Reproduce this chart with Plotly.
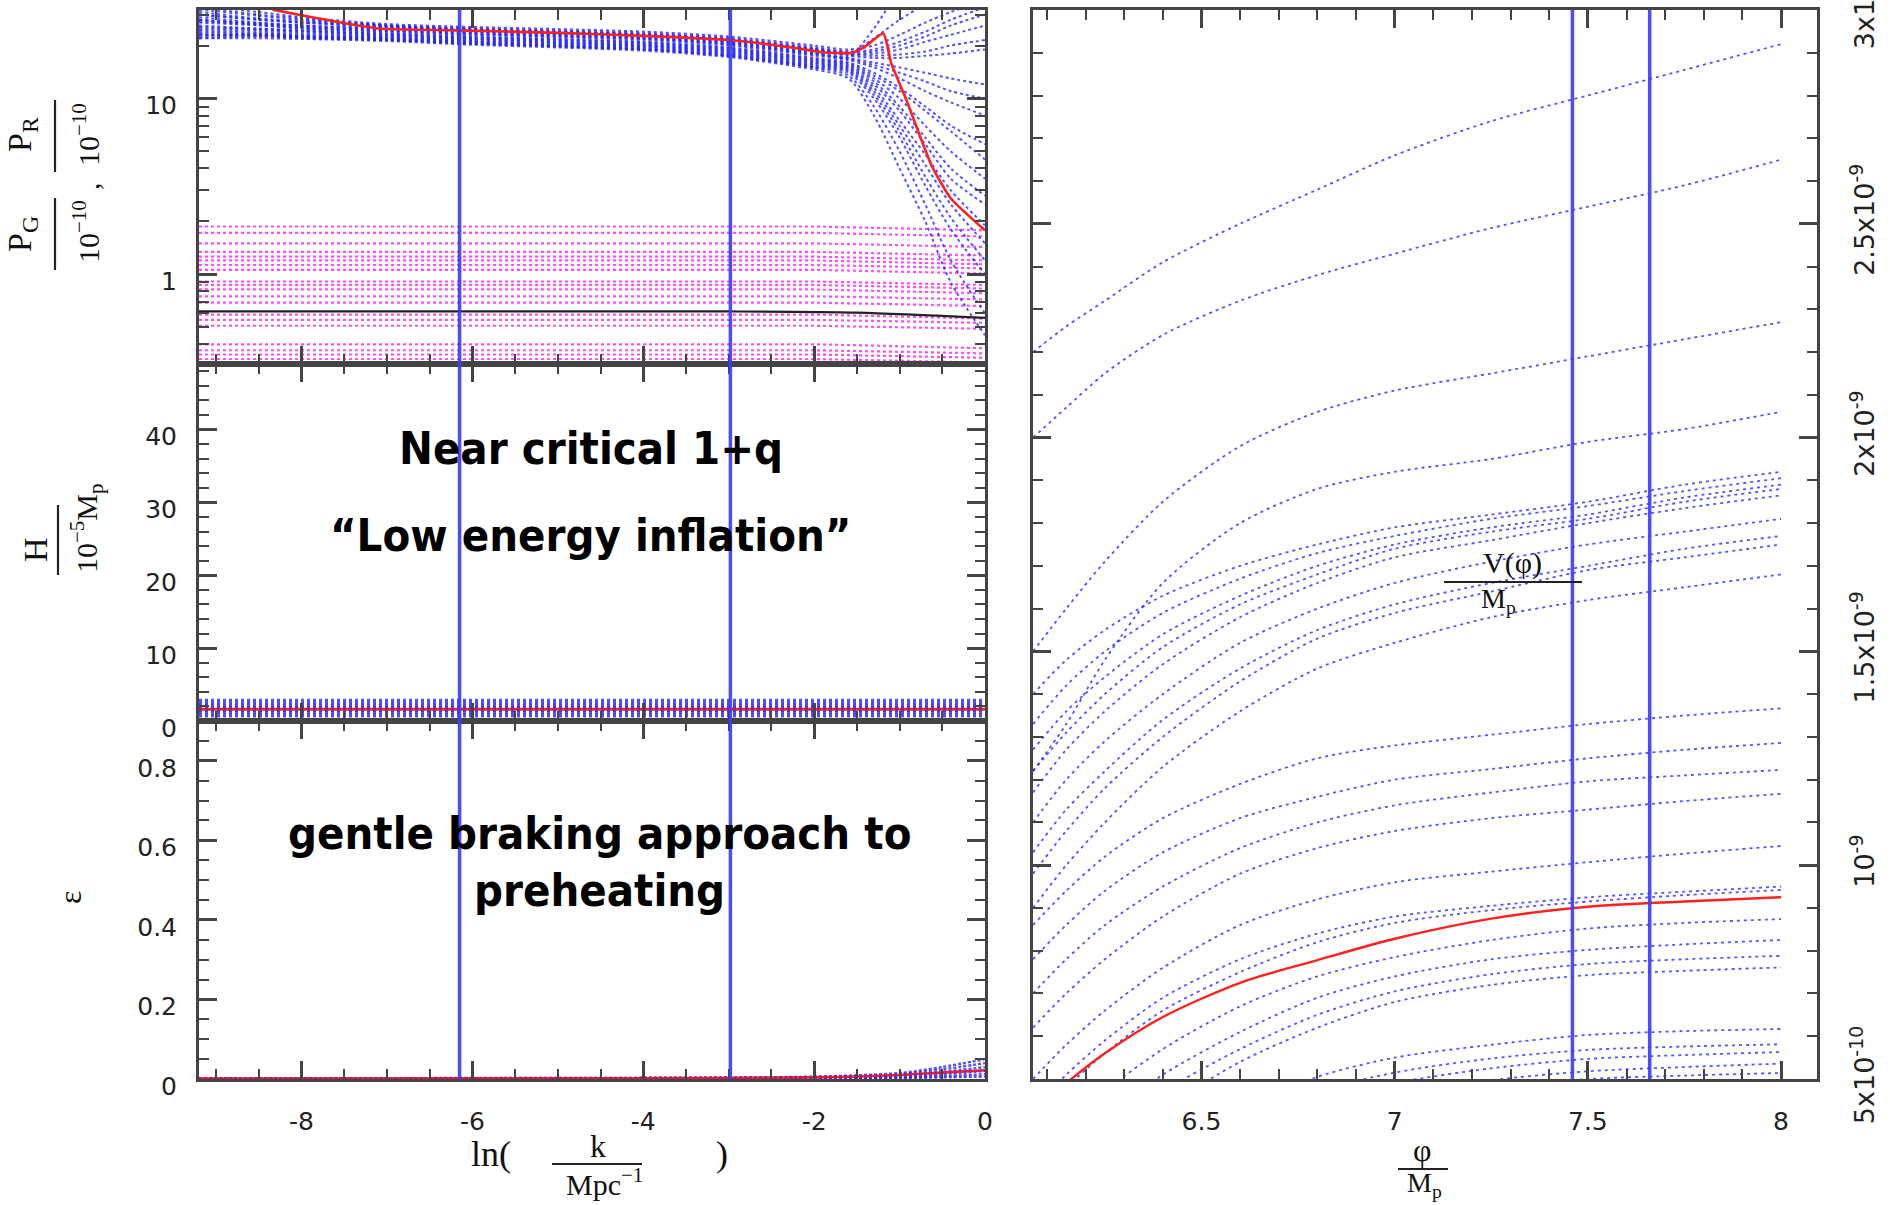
import plotly.graph_objects as go

W, H = 1890, 1205

# ---------------- data : left panels, x = ln(k / Mpc^-1) ----------------
K_RANGE = [-9.2, 0.0]
K_TICKS = [-8, -6, -4, -2, 0]
K_TICKTEXT = ["-8", "-6", "-4", "-2", "0"]
K_GRID = [-9.2, -8.5, -8.0, -7.0, -6.0, -5.0, -4.0, -3.0, -2.0, -1.6, -1.3, -1.0, -0.7, -0.4, 0.0]
K_MARKS = [-6.15, -2.98]

# P_R / 1e-10 (blue dotted family) on K_GRID
PR_BLUE = [
    [34.0, 31.0, 29.0, 26.5, 25.5, 24.8, 24.0, 22.5, 20.0, 19.0, 20.0, 23.0, 27.0, 31.0, 36.0],
    [33.0, 30.0, 28.5, 26.0, 24.8, 24.0, 23.2, 21.8, 19.2, 18.3, 18.5, 20.0, 22.5, 26.0, 30.0],
    [32.0, 29.5, 28.0, 26.0, 25.0, 24.3, 23.5, 22.0, 19.5, 18.5, 19.0, 21.0, 24.0, 28.0, 33.0],
    [31.0, 28.5, 27.5, 25.8, 24.2, 23.5, 22.8, 21.3, 18.8, 17.8, 17.5, 17.8, 18.5, 20.0, 21.5],
    [30.0, 28.0, 27.0, 25.5, 24.5, 23.8, 23.0, 21.5, 19.0, 18.0, 18.0, 19.0, 21.0, 23.0, 26.0],
    [30.0, 28.0, 27.0, 25.5, 24.5, 23.8, 23.0, 21.5, 19.0, 18.0, 22.0, 28.0, 34.0, 38.0, 40.0],
    [29.0, 27.0, 26.0, 25.0, 24.0, 23.3, 22.5, 21.0, 18.5, 17.5, 17.0, 17.0, 17.5, 18.0, 19.0],
    [28.0, 26.8, 26.0, 24.8, 23.8, 23.0, 22.2, 20.8, 18.2, 17.2, 25.0, 40.0, 45.0, 48.0, 50.0],
    [28.0, 26.5, 25.5, 24.5, 23.5, 22.8, 22.0, 20.5, 18.0, 17.0, 16.0, 15.0, 14.0, 13.0, 12.0],
    [27.5, 26.2, 25.2, 24.2, 23.2, 22.5, 21.8, 20.3, 17.8, 16.8, 15.5, 14.0, 12.5, 11.0, 10.0],
    [27.0, 26.0, 25.0, 24.0, 23.0, 22.3, 21.5, 20.0, 17.5, 16.5, 15.0, 13.0, 11.0, 9.5, 8.0],
    [26.0, 25.0, 24.5, 23.5, 22.5, 21.8, 21.0, 19.5, 17.0, 16.0, 14.0, 11.5, 9.0, 7.0, 5.5],
    [25.5, 24.8, 24.2, 23.3, 22.3, 21.6, 20.8, 19.3, 16.8, 15.8, 13.5, 11.0, 8.5, 6.5, 4.5],
    [25.0, 24.5, 24.0, 23.0, 22.0, 21.3, 20.5, 19.0, 16.5, 15.5, 13.0, 10.0, 7.0, 5.0, 3.5],
    [24.5, 24.0, 23.5, 22.8, 21.8, 21.0, 20.2, 18.8, 16.3, 15.3, 12.5, 9.0, 6.0, 4.0, 2.8],
    [24.0, 23.5, 23.0, 22.5, 21.5, 20.8, 20.0, 18.5, 16.0, 15.0, 12.0, 8.5, 5.5, 3.5, 2.5],
    [23.5, 23.2, 22.8, 22.2, 21.2, 20.5, 19.8, 18.3, 15.8, 14.8, 11.5, 7.5, 4.8, 3.0, 1.9],
    [23.0, 23.0, 22.5, 22.0, 21.0, 20.3, 19.5, 18.0, 15.5, 14.5, 11.0, 7.0, 4.2, 2.5, 1.5],
    [23.0, 22.8, 22.3, 21.5, 20.5, 19.8, 19.0, 17.5, 15.0, 13.5, 9.0, 5.0, 2.5, 1.2, 0.6],
    [22.5, 22.8, 22.3, 21.8, 20.8, 20.0, 19.3, 17.8, 15.3, 14.3, 10.5, 6.5, 3.6, 2.1, 1.2],
    [22.0, 22.5, 22.0, 21.5, 20.5, 19.8, 19.0, 17.5, 15.0, 14.0, 10.0, 6.0, 3.2, 1.8, 1.0],
    [22.0, 22.0, 21.8, 21.2, 20.2, 19.5, 18.7, 17.2, 14.6, 13.0, 8.0, 4.0, 2.0, 0.9, 0.45],
]
# P_R / 1e-10 (red reference solution)
PR_RED_K = [-8.34, -7.8, -7.1, -6.2, -5.0, -4.0, -3.0, -2.2, -1.9, -1.55, -1.4, -1.19,
            -1.1, -0.92, -0.62, -0.4, 0.0]
PR_RED = [32.0, 28.5, 25.0, 24.4, 23.6, 22.7, 21.5, 19.3, 18.3, 18.2, 19.8, 23.4,
          16.0, 9.8, 4.1, 2.7, 1.78]
# P_G / 1e-10 (magenta dotted family): value on the left plateau and at k end
PG_K = [-9.2, -2.0, 0.0]
PG_LEVEL = [1.87, 1.72, 1.50, 1.34, 1.26, 1.20, 1.13, 1.06, 0.91, 0.87,
            0.82, 0.75, 0.69, 0.59, 0.55, 0.51, 0.40, 0.37, 0.35, 0.33]
PG_END = [1.78, 1.64, 1.43, 1.28, 1.20, 1.14, 1.08, 1.01, 0.87, 0.83,
          0.78, 0.72, 0.66, 0.56, 0.53, 0.49, 0.38, 0.355, 0.335, 0.315]
PG_BLACK_K = [-9.2, -3.0, -1.5, 0.0]
PG_BLACK = [0.615, 0.615, 0.605, 0.565]

# H / 1e-5 Mp
H_K = [-9.2, 0.0]
H_LEVELS = [2.9, 2.6, 2.35, 2.1, 1.9, 1.7, 1.45, 1.2, 0.95, 0.65]
H_RED = [1.6, 1.6]

# epsilon
EPS_K = [-9.2, -4.0, -2.0, -1.0, -0.5, 0.0]
EPS_BLUE = [
    [0.002, 0.003, 0.006, 0.015, 0.030, 0.050],
    [0.002, 0.003, 0.005, 0.012, 0.024, 0.040],
    [0.001, 0.002, 0.004, 0.009, 0.018, 0.030],
    [0.001, 0.002, 0.003, 0.006, 0.012, 0.020],
    [0.001, 0.001, 0.002, 0.004, 0.007, 0.012],
    [0.0005, 0.001, 0.001, 0.002, 0.004, 0.006],
]
EPS_RED = [0.001, 0.002, 0.004, 0.010, 0.016, 0.022]

# ---------------- data : right panel, V(phi)/Mp vs phi/Mp ----------------
PHI_RANGE = [6.064, 8.093]
PHI_TICKS = [6.5, 7.0, 7.5, 8.0]
PHI_TICKTEXT = ["6.5", "7", "7.5", "8"]
PHI_MARKS = [7.46, 7.66]
V_RANGE = [0.5, 3.0]          # units of 1e-9
V_TICKS = [0.5, 1.0, 1.5, 2.0, 2.5, 3.0]
V_TICKTEXT = ["5x10<sup>-10</sup>", "10<sup>-9</sup>", "1.5x10<sup>-9</sup>",
              "2x10<sup>-9</sup>", "2.5x10<sup>-9</sup>", "3x10<sup>-9</sup>"]
PHI_GRID = [6.064, 6.15, 6.25, 6.4, 6.6, 6.8, 7.0, 7.25, 7.5, 7.75, 8.0]
V_BLUE = [
    [2.20, 2.26, 2.32, 2.41, 2.50, 2.58, 2.66, 2.74, 2.80, 2.86, 2.92],
    [2.00, 2.07, 2.15, 2.24, 2.32, 2.38, 2.43, 2.49, 2.54, 2.59, 2.65],
    [1.50, 1.60, 1.71, 1.85, 1.98, 2.06, 2.11, 2.15, 2.19, 2.23, 2.27],
    [1.22, 1.33, 1.48, 1.66, 1.80, 1.88, 1.92, 1.95, 1.99, 2.02, 2.06],
    [1.40, 1.48, 1.55, 1.63, 1.70, 1.75, 1.79, 1.82, 1.85, 1.89, 1.92],
    [1.33, 1.42, 1.50, 1.59, 1.67, 1.73, 1.77, 1.81, 1.84, 1.875, 1.905],
    [1.27, 1.36, 1.44, 1.54, 1.63, 1.70, 1.75, 1.79, 1.82, 1.86, 1.89],
    [1.22, 1.31, 1.40, 1.51, 1.61, 1.68, 1.74, 1.78, 1.81, 1.85, 1.88],
    [1.17, 1.27, 1.36, 1.47, 1.58, 1.66, 1.72, 1.76, 1.80, 1.835, 1.865],
    [1.10, 1.20, 1.29, 1.40, 1.52, 1.60, 1.66, 1.71, 1.75, 1.78, 1.81],
    [1.03, 1.13, 1.22, 1.34, 1.46, 1.55, 1.61, 1.66, 1.70, 1.74, 1.77],
    [0.98, 1.08, 1.18, 1.30, 1.43, 1.53, 1.59, 1.64, 1.69, 1.72, 1.75],
    [0.90, 1.00, 1.10, 1.23, 1.36, 1.46, 1.52, 1.58, 1.62, 1.65, 1.68],
    [0.86, 0.94, 1.02, 1.11, 1.19, 1.25, 1.28, 1.305, 1.33, 1.35, 1.367],
    [0.78, 0.86, 0.94, 1.03, 1.11, 1.16, 1.20, 1.225, 1.25, 1.27, 1.286],
    [0.70, 0.78, 0.86, 0.95, 1.04, 1.10, 1.14, 1.17, 1.196, 1.21, 1.223],
    [0.62, 0.70, 0.78, 0.88, 0.98, 1.04, 1.08, 1.11, 1.13, 1.15, 1.167],
    [0.50, 0.58, 0.66, 0.76, 0.86, 0.92, 0.96, 0.985, 1.007, 1.027, 1.045],
    [0.43, 0.51, 0.59, 0.69, 0.78, 0.84, 0.88, 0.905, 0.925, 0.938, 0.95],
    [0.40, 0.48, 0.56, 0.66, 0.75, 0.82, 0.865, 0.895, 0.915, 0.93, 0.942],
    [0.30, 0.38, 0.47, 0.57, 0.67, 0.74, 0.785, 0.825, 0.852, 0.865, 0.874],
    [0.24, 0.32, 0.41, 0.51, 0.61, 0.69, 0.74, 0.78, 0.802, 0.815, 0.825],
    [0.20, 0.28, 0.37, 0.47, 0.57, 0.65, 0.705, 0.745, 0.769, 0.78, 0.788],
    [0.16, 0.24, 0.33, 0.43, 0.54, 0.62, 0.68, 0.72, 0.743, 0.753, 0.761],
    [0.05, 0.13, 0.21, 0.32, 0.43, 0.505, 0.55, 0.58, 0.603, 0.612, 0.617],
    [0.00, 0.08, 0.16, 0.27, 0.39, 0.47, 0.515, 0.548, 0.568, 0.576, 0.581],
    [-0.05, 0.03, 0.11, 0.22, 0.35, 0.44, 0.49, 0.525, 0.547, 0.556, 0.563],
    [-0.10, -0.02, 0.06, 0.17, 0.30, 0.40, 0.46, 0.497, 0.518, 0.528, 0.536],
    [-0.15, -0.07, 0.01, 0.12, 0.25, 0.36, 0.43, 0.48, 0.50, 0.508, 0.514],
]
V_RED = [0.42, 0.49, 0.56, 0.645, 0.725, 0.778, 0.828, 0.875, 0.903, 0.915, 0.925]

# ---------------- styles ----------------
BLUE = "rgba(35,35,255,0.78)"
MAGENTA = "rgba(255,45,255,0.85)"
RED = "#ff2020"
VLINE = "rgba(60,60,255,0.92)"
AXC = "#444444"
TICKFONT = dict(family="DejaVu Sans, Liberation Sans, sans-serif", size=25, color="#222222")
RTICKFONT = dict(family="DejaVu Sans, Liberation Sans, sans-serif", size=27, color="#222222")
SERIF = "Liberation Serif, Times New Roman, serif"
BIGFONT = "Liberation Sans Narrow, Arial Narrow, DejaVu Sans Condensed, sans-serif"

def px(x):
    return x / W

def py(y):
    return 1 - y / H

XL = [px(199), px(985)]
XR = [px(1033), px(1817)]
Y_TOP = [py(364), py(10)]
Y_MID = [py(721), py(364)]
Y_BOT = [py(1079), py(721)]
Y_R = [py(1079), py(10)]

fig = go.Figure()

def curve(x, y, xa, ya, color, width, dash, shape="spline", smoothing=0.8):
    fig.add_trace(go.Scatter(
        x=x, y=y, xaxis=xa, yaxis=ya, mode="lines",
        line=dict(color=color, width=width, dash=dash, shape=shape, smoothing=smoothing),
        hoverinfo="skip", showlegend=False))

# top-left: power spectra
for lv, le in zip(PG_LEVEL, PG_END):
    curve(PG_K, [lv, lv, le], "x", "y", MAGENTA, 2.2, "3px,3px", shape="linear")
for ys in PR_BLUE:
    curve(K_GRID, ys, "x", "y", BLUE, 2.0, "3px,3px")
curve(PG_BLACK_K, PG_BLACK, "x", "y", "#222222", 2.2, "solid")
curve(PR_RED_K, PR_RED, "x", "y", RED, 2.6, "solid", smoothing=0.5)

# middle-left: H
for lv in H_LEVELS:
    curve(H_K, [lv, lv], "x2", "y2", BLUE, 2.4, "3px,3px", shape="linear")
curve(H_K, H_RED, "x2", "y2", "rgba(200,20,60,0.9)", 3, "solid", shape="linear")

# bottom-left: epsilon
for ys in EPS_BLUE:
    curve(EPS_K, ys, "x3", "y3", BLUE, 2.4, "3px,2px")
curve(EPS_K, EPS_RED, "x3", "y3", "rgba(220,20,60,0.95)", 2.6, "solid")

# right: potential
for ys in V_BLUE:
    curve(PHI_GRID, ys, "x4", "y4", BLUE, 1.8, "3px,4px")
curve(PHI_GRID, V_RED, "x4", "y4", RED, 2.4, "solid")

# vertical marker lines
for xa, ya in (("x", "y"), ("x2", "y2"), ("x3", "y3")):
    for k in K_MARKS:
        fig.add_shape(type="line", xref=xa, yref=ya + " domain", x0=k, x1=k, y0=0, y1=1,
                      line=dict(color=VLINE, width=3.5), layer="above")
for p in PHI_MARKS:
    fig.add_shape(type="line", xref="x4", yref="y4 domain", x0=p, x1=p, y0=0, y1=1,
                  line=dict(color=VLINE, width=3.5), layer="above")

# ---------------- axes ----------------
def ax(**kw):
    base = dict(showline=True, linecolor=AXC, linewidth=3, mirror="ticks",
                ticks="inside", ticklen=18, tickwidth=2.5, tickcolor=AXC,
                showgrid=False, zeroline=False, automargin=False,
                tickfont=TICKFONT)
    minor = kw.pop("minor", {})
    m = dict(ticks="inside", ticklen=10, tickwidth=2, tickcolor=AXC, showgrid=False)
    m.update(minor)
    base["minor"] = m
    base.update(kw)
    return base

kx = dict(range=K_RANGE, tickmode="array", tickvals=K_TICKS, ticktext=K_TICKTEXT,
          minor=dict(dtick=0.5, tick0=0))
log_minor = [0.4, 0.5, 0.6, 0.7, 0.8, 0.9, 2, 3, 4, 5, 6, 7, 8, 9, 20, 30]

fig.update_layout(
    width=W, height=H, template="none",
    paper_bgcolor="white", plot_bgcolor="white",
    margin=dict(l=0, r=0, t=0, b=0),
    showlegend=False,
    xaxis=ax(domain=XL, anchor="y", showticklabels=False, **dict(kx)),
    xaxis2=ax(domain=XL, anchor="y2", showticklabels=False, **dict(kx)),
    xaxis3=ax(domain=XL, anchor="y3", showticklabels=True, ticklabelstandoff=18, **dict(kx)),
    yaxis=ax(domain=Y_TOP, anchor="x", type="log", range=[-0.51, 1.503],
             tickmode="array", tickvals=[1, 10], ticktext=["1", "10"],
             ticklabelstandoff=14, ticklabelshift=7, minor=dict(tickvals=log_minor)),
    yaxis2=ax(domain=Y_MID, anchor="x2", range=[0, 49], tickmode="array",
              tickvals=[0, 10, 20, 30, 40], ticktext=["0", "10", "20", "30", "40"],
              ticklabelstandoff=14, ticklabelshift=7, minor=dict(dtick=2, tick0=0)),
    yaxis3=ax(domain=Y_BOT, anchor="x3", range=[0, 0.9], tickmode="array",
              tickvals=[0, 0.2, 0.4, 0.6, 0.8], ticktext=["0", "0.2", "0.4", "0.6", "0.8"],
              ticklabelstandoff=14, ticklabelshift=7, minor=dict(dtick=0.05, tick0=0)),
    xaxis4=ax(domain=XR, anchor="y4", range=PHI_RANGE, tickmode="array",
              tickvals=PHI_TICKS, ticktext=PHI_TICKTEXT, ticklabelstandoff=18,
              minor=dict(dtick=0.1, tick0=6.0)),
    yaxis4=ax(domain=Y_R, anchor="x4", side="right", range=V_RANGE, tickmode="array",
              tickvals=V_TICKS, ticktext=V_TICKTEXT, tickangle=-90, tickfont=RTICKFONT,
              ticklabeloverflow="allow",
              ticklabelstandoff=22, minor=dict(dtick=0.1, tick0=0.5)),
)

# ---------------- text ----------------
def text(x, y, s, size, family=SERIF, angle=0, color="#111", weight="normal"):
    fig.add_annotation(x=px(x), y=py(y), xref="paper", yref="paper", text=s,
                       showarrow=False, xanchor="center", yanchor="middle",
                       textangle=angle,
                       font=dict(family=family, size=size, color=color, weight=weight))

def hbar(x0, x1, y, width=2.2):
    fig.add_shape(type="line", xref="paper", yref="paper", x0=px(x0), x1=px(x1),
                  y0=py(y), y1=py(y), line=dict(color="#222", width=width))

def vbar(x, y0, y1, width=2.2):
    fig.add_shape(type="line", xref="paper", yref="paper", x0=px(x), x1=px(x),
                  y0=py(y0), y1=py(y1), line=dict(color="#222", width=width))

# panel annotations
text(591, 448, "Near critical 1+q", 45, family=BIGFONT, color="#000", weight="bold")
text(590, 535, "\u201cLow energy inflation\u201d", 45, family=BIGFONT, color="#000", weight="bold")
text(599, 833, "gentle braking approach to", 45, family=BIGFONT, color="#000", weight="bold")
text(599, 890, "preheating", 45, family=BIGFONT, color="#000", weight="bold")

# left y titles (rotated fractions)
text(22, 135, "P<sub>R</sub>", 34, angle=-90)
vbar(55, 100, 172)
text(86, 135, "10<sup>\u221210</sup>", 30, angle=-90)
text(88, 186, ",", 30, angle=-90)
text(22, 234, "P<sub>G</sub>", 34, angle=-90)
vbar(55, 198, 270)
text(86, 232, "10<sup>\u221210</sup>", 30, angle=-90)

text(36, 550, "H", 34, angle=-90)
vbar(58, 505, 575)
text(86, 528, "10<sup>\u22125</sup>M<sub>p</sub>", 30, angle=-90)

text(70, 898, "\u03b5", 32, angle=-90)

# left x title: ln( k / Mpc^-1 )
text(491, 1154, "ln(", 36)
text(598, 1146, "k", 32)
hbar(552, 642, 1164)
text(604, 1182, "Mpc<sup>\u22121</sup>", 30)
text(722, 1154, ")", 36)

# right x title: phi / Mp
text(1422, 1150, "\u03c6", 32)
hbar(1398, 1448, 1169)
text(1424, 1184, "M<sub>p</sub>", 28)

# V(phi)/Mp label inside right panel
text(1512, 563, "V(\u03c6)", 30)
hbar(1444, 1582, 582)
text(1498, 600, "M<sub>p</sub>", 28)

fig.write_html("out.html")
